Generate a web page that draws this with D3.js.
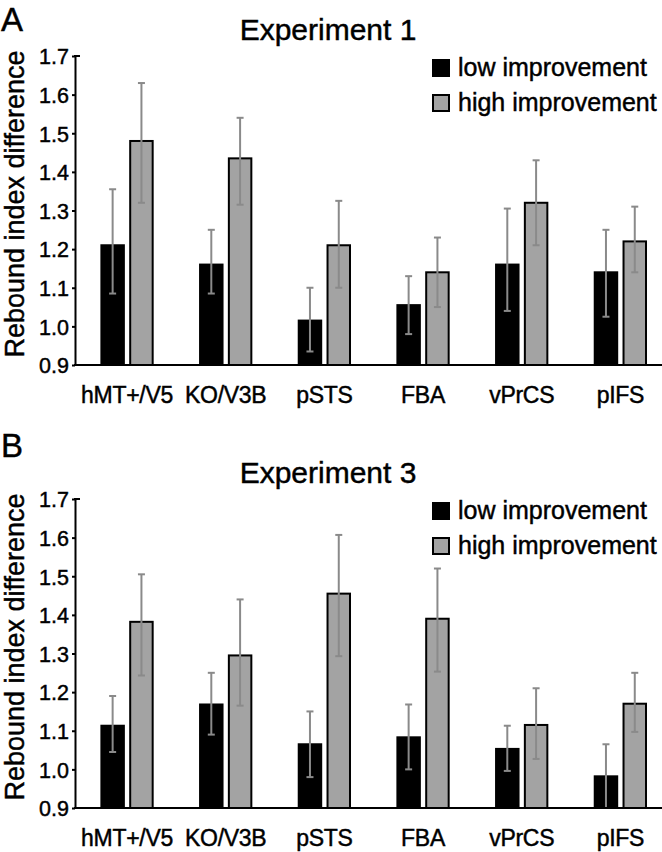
<!DOCTYPE html>
<html>
<head>
<meta charset="utf-8">
<script src="https://cdn.jsdelivr.net/npm/d3@7"></script>
<style>
  body { margin: 0; background: #fff; }
  svg text { font-family: "Liberation Sans", Arial, sans-serif; fill: #000;
             stroke: #000; stroke-width: 0.45px; }
</style>
</head>
<body>
<div id="chart"></div>
<script>
// regions of interest (x categories)
const regions = ["hMT+/V5", "KO/V3B", "pSTS", "FBA", "vPrCS", "pIFS"];
const series = ["low improvement", "high improvement"];
const yTicks = [0.9, 1.0, 1.1, 1.2, 1.3, 1.4, 1.5, 1.6, 1.7];

// Experiment 1 : means and error bar ends
const exp1Low     = [1.21, 1.16, 1.015, 1.055, 1.16, 1.14];
const exp1LowHi   = [1.355, 1.25, 1.10, 1.13, 1.305, 1.25];
const exp1LowLo   = [1.085, 1.085, 0.935, 0.98, 1.04, 1.025];
const exp1High    = [1.48, 1.435, 1.21, 1.14, 1.32, 1.22];
const exp1HighHi  = [1.63, 1.54, 1.325, 1.23, 1.43, 1.31];
const exp1HighLo  = [1.32, 1.315, 1.10, 1.05, 1.21, 1.14];

// Experiment 3
const exp3Low     = [1.113, 1.168, 1.065, 1.083, 1.053, 0.982];
const exp3LowHi   = [1.19, 1.25, 1.15, 1.168, 1.113, 1.065];
const exp3LowLo   = [1.045, 1.09, 0.98, 1.0, 0.996, 0.9];
const exp3High    = [1.382, 1.295, 1.455, 1.39, 1.115, 1.17];
const exp3HighHi  = [1.505, 1.44, 1.607, 1.52, 1.21, 1.25];
const exp3HighLo  = [1.243, 1.165, 1.293, 1.253, 1.027, 1.097];

const W = 662, H = 852;
const colors = ["#000", "#a3a3a3"];
const errColor = "#8a8a8a";

const svg = d3.select("#chart").append("svg")
  .attr("width", W).attr("height", H);

const x0 = d3.scaleBand().domain(regions)
  .range([77.7, 669.7]).paddingInner(0.46).paddingOuter(0.23);
const x1 = d3.scaleBand().domain(series)
  .range([0, x0.bandwidth()]).paddingInner(0.15);

function rows(mLow, hLow, lLow, mHigh, hHigh, lHigh) {
  return regions.map((r, i) => ({
    region: r,
    vals: [
      { s: series[0], k: 0, m: mLow[i], hi: hLow[i], lo: lLow[i] },
      { s: series[1], k: 1, m: mHigh[i], hi: hHigh[i], lo: lHigh[i] }
    ]
  }));
}

function drawPanel(p) {
  const y = d3.scaleLinear().domain([0.9, 1.7]).range([p.top + 309, p.top]);
  const g = svg.append("g");

  // panel letter and title
  g.append("text").attr("x", 1).attr("y", p.letterY)
    .style("font-size", "33px").text(p.letter);
  g.append("text").attr("x", 328).attr("y", p.top - 16)
    .attr("text-anchor", "middle").style("font-size", "30px").text(p.title);

  // bars
  const grp = g.selectAll(".grp").data(p.data).enter().append("g")
    .attr("transform", d => `translate(${x0(d.region)},0)`);
  grp.selectAll("rect").data(d => d.vals).enter().append("rect")
    .attr("x", d => x1(d.s) + 1)
    .attr("width", x1.bandwidth() - 2)
    .attr("y", d => y(d.m))
    .attr("height", d => y(0.9) - y(d.m))
    .attr("fill", d => colors[d.k])
    .attr("stroke", "#000").attr("stroke-width", 2);

  // error bars
  const eb = grp.selectAll(".eb").data(d => d.vals).enter().append("g")
    .attr("transform", d => `translate(${x1(d.s) + x1.bandwidth() / 2},0)`)
    .attr("stroke", errColor).attr("stroke-width", 2);
  eb.append("line").attr("y1", d => y(d.hi)).attr("y2", d => y(d.lo));
  eb.append("line").attr("x1", -3.5).attr("x2", 3.5)
    .attr("y1", d => y(d.hi)).attr("y2", d => y(d.hi));
  eb.append("line").attr("x1", -3.5).attr("x2", 3.5)
    .attr("y1", d => y(d.lo)).attr("y2", d => y(d.lo));

  // y axis
  const ax = g.append("g").attr("transform", "translate(75,0)")
    .call(d3.axisLeft(y).tickValues(yTicks).tickFormat(d3.format(".1f"))
      .tickSizeInner(3).tickSizeOuter(0).tickPadding(3));
  ax.select(".domain").attr("stroke-width", 2);
  ax.selectAll(".tick line").attr("stroke-width", 2);
  ax.selectAll(".tick text").style("font-size", "21.5px")
    .attr("font-family", null).attr("dy", "0.36em");
  g.append("line").attr("x1", 74).attr("x2", 80)
    .attr("y1", y(1.7)).attr("y2", y(1.7))
    .attr("stroke", "#000").attr("stroke-width", 2);

  // x axis baseline and labels
  g.append("line").attr("x1", 74).attr("x2", W)
    .attr("y1", y(0.9)).attr("y2", y(0.9))
    .attr("stroke", "#000").attr("stroke-width", 2);
  g.selectAll(".xl").data(regions).enter().append("text")
    .attr("x", d => x0(d) + x0.bandwidth() / 2)
    .attr("y", y(0.9) + 38)
    .attr("text-anchor", "middle")
    .style("font-size", "23px").style("letter-spacing", "-0.3px")
    .text(d => d);

  // y axis title
  g.append("text")
    .attr("transform", `translate(24,${p.top + 148}) rotate(-90)`)
    .attr("text-anchor", "middle").style("font-size", "27px")
    .text("Rebound index difference");

  // legend
  const lg = g.selectAll(".lg").data(series).enter().append("g")
    .attr("transform", (d, i) => `translate(432,${p.top + 3 + i * 35})`);
  lg.append("rect").attr("x", 1).attr("y", 1).attr("width", 16).attr("height", 16)
    .attr("fill", (d, i) => colors[i]).attr("stroke", "#000").attr("stroke-width", 2);
  lg.append("text").attr("x", 26).attr("y", 17)
    .style("font-size", "25px").text(d => d);
}

drawPanel({ top: 56, letter: "A", letterY: 31, title: "Experiment 1",
  data: rows(exp1Low, exp1LowHi, exp1LowLo, exp1High, exp1HighHi, exp1HighLo) });
drawPanel({ top: 499, letter: "B", letterY: 457, title: "Experiment 3",
  data: rows(exp3Low, exp3LowHi, exp3LowLo, exp3High, exp3HighHi, exp3HighLo) });
</script>
</body>
</html>
